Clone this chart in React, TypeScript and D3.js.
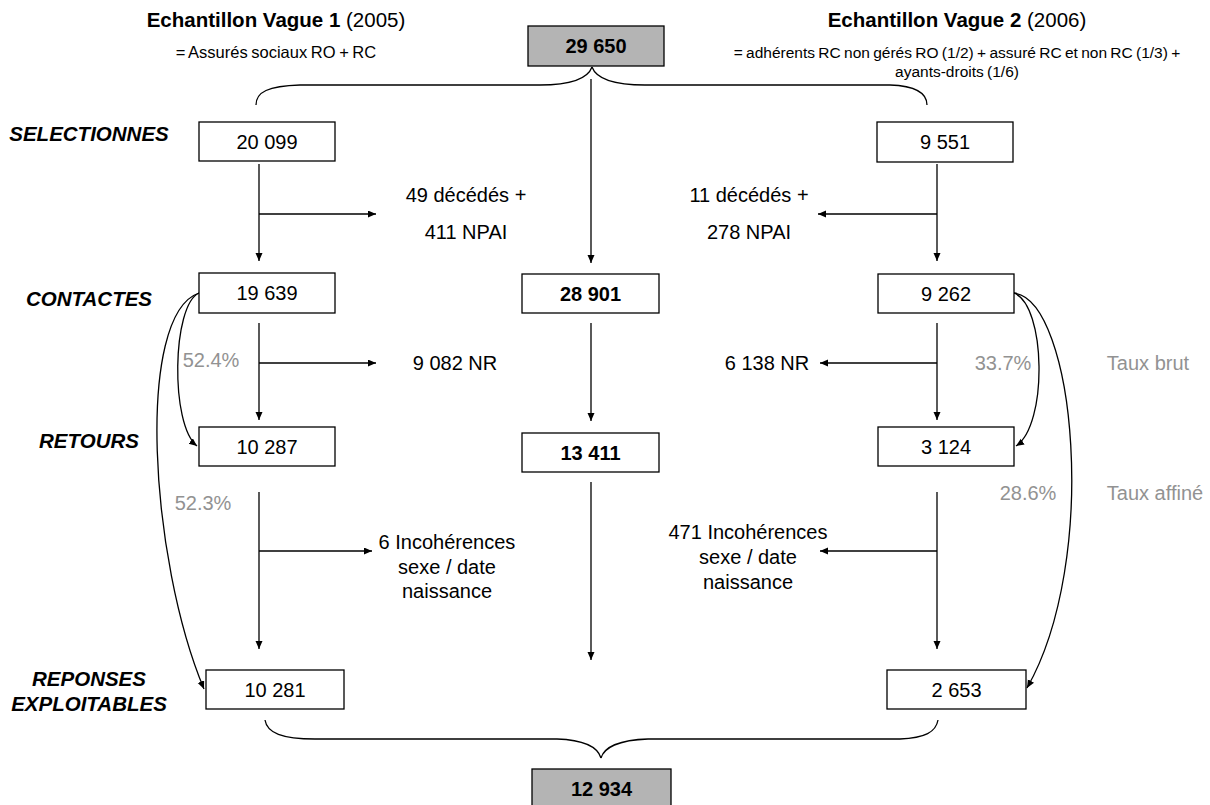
import React from "react";
import * as d3 from "d3";

// ---- data ----
const stages = ["SELECTIONNES", "CONTACTES", "RETOURS", "REPONSES|EXPLOITABLES"];
const wave1Values = [20099, 19639, 10287, 10281];
const wave2Values = [9551, 9262, 3124, 2653];
const totalValues = [29650, 28901, 13411, 12934];
const wave1Losses = ["49 décédés +|411 NPAI", "9 082 NR", "6 Incohérences|sexe / date|naissance"];
const wave2Losses = ["11 décédés +|278 NPAI", "6 138 NR", "471 Incohérences|sexe / date|naissance"];
const wave1Rates = ["52.4%", "52.3%"];
const wave2Rates = ["33.7%", "28.6%"];
const rateLabels = ["Taux brut", "Taux affiné"];
const waveTitles = ["Echantillon Vague 1", "Echantillon Vague 2"];
const waveYears = ["(2005)", "(2006)"];
const waveSubtitles = ["= Assurés sociaux RO + RC", "= adhérents RC non gérés RO (1/2) + assuré RC et non RC (1/3) +|ayants-droits (1/6)"];

// ---- layout ----
const FONT = "'Liberation Sans', Arial, Helvetica, sans-serif";
const fmt = d3.formatLocale({ decimal: ".", thousands: " ", grouping: [3], currency: ["", ""] }).format(",d");
const GRAY = "#929292";
const BOXFILL = "#b4b4b4";

const w1Boxes = [[199, 122, 136, 39], [199, 273, 136, 40], [199, 427, 136, 39], [206, 670, 138, 39]];
const w2Boxes = [[877, 122, 136, 40], [878, 274, 136, 39], [878, 427, 136, 39], [887, 670, 139, 39]];
const cBoxes = [[528, 26, 136, 40], [522, 274, 137, 39], [522, 433, 137, 39], [532, 769, 139, 40]];
const stageY = [[141], [306], [448], [686, 711]];

const vSegs = [[164, 261], [323, 420], [492, 649]];
const cSegs = [[79, 263], [323, 421], [482, 660]];
const branchY = [214, 363, 551];
const w1BranchEnd = [376, 376, 372];
const w2BranchEnd = [818, 820, 820];
const w1LossX = [466, 455, 447];
const w2LossX = [749, 767, 748];
const w1LossY = [[202, 239], [370], [549, 574, 598]];
const w2LossY = [[202, 239], [370], [539, 564, 589]];

function Box({ r, label, bold, fill }: any) {
  const [x, y, w, h] = r;
  return (
    <g>
      <rect x={x} y={y} width={w} height={h} fill={fill || "#fff"} stroke="#000" strokeWidth={1.3} />
      <text x={x + w / 2} y={y + h / 2 + 7} textAnchor="middle" fontSize={20} fontWeight={bold ? "bold" : "normal"} fill="#000">
        {label}
      </text>
    </g>
  );
}

export default function App() {
  const line = d3.line();
  const colX = [259, 591, 937];
  const stroke = { stroke: "#000", strokeWidth: 1.3, fill: "none" };

  const topBraceL = "M256,105 C256,92 268,86 300,85 L540,85 C572,85 588,78 592,67";
  const topBraceR = "M592,67 C596,78 612,85 645,85 L890,85 C918,86 927,94 927,105";
  const botBraceL = "M265,720 C267,733 282,739 315,739 L557,739 C585,740 598,748 601,758";
  const botBraceR = "M601,758 C604,748 618,740 648,739 L900,739 C925,738 936,732 938,720";

  const curves = [
    "M199,293 C172,305 170,425 197,446",
    "M199,293 C135,315 150,560 204,689",
    "M1014,293 C1046,305 1048,425 1016,446",
    "M1014,293 C1075,300 1100,560 1027,688",
  ];

  return (
    <svg width={1210} height={805} style={{ position: "absolute", left: 0, top: 0, background: "#fff" }} fontFamily={FONT}>
      <defs>
        <marker id="ah" markerUnits="userSpaceOnUse" markerWidth={9} markerHeight={8} refX={8} refY={3.5} orient="auto">
          <path d="M0,0 L8,3.5 L0,7 z" fill="#000" />
        </marker>
      </defs>

      {/* titles */}
      {[276, 957].map((cx, i) => (
        <g key={"t" + i}>
          <text x={cx} y={27} textAnchor="middle" fontSize={20.5} fill="#000">
            <tspan fontWeight="bold">{waveTitles[i]}</tspan>
            <tspan> {waveYears[i]}</tspan>
          </text>
          {waveSubtitles[i].split("|").map((s, j) => (
            <text key={j} x={cx} y={58 + j * 19} textAnchor="middle" fontSize={i === 0 ? 16.5 : 15.5} fill="#000" style={{ wordSpacing: "-1px" }}>
              {s}
            </text>
          ))}
        </g>
      ))}

      {/* braces */}
      <path d={topBraceL} {...stroke} />
      <path d={topBraceR} {...stroke} />
      <path d={botBraceL} {...stroke} />
      <path d={botBraceR} {...stroke} />

      {/* stage labels */}
      {stages.map((s, i) =>
        s.split("|").map((t, j) => (
          <text key={i + "-" + j} x={89} y={stageY[i][j]} textAnchor="middle" fontSize={20.5} fontWeight="bold" fontStyle="italic" fill="#000">
            {t}
          </text>
        ))
      )}

      {/* vertical arrows */}
      {vSegs.map((sg, i) => (
        <g key={"v" + i}>
          <path d={line([[colX[0], sg[0]], [colX[0], sg[1]]])!} {...stroke} markerEnd="url(#ah)" />
          <path d={line([[colX[2], sg[0]], [colX[2], sg[1]]])!} {...stroke} markerEnd="url(#ah)" />
          <path d={line([[colX[0], branchY[i]], [w1BranchEnd[i], branchY[i]]])!} {...stroke} markerEnd="url(#ah)" />
          <path d={line([[colX[2], branchY[i]], [w2BranchEnd[i], branchY[i]]])!} {...stroke} markerEnd="url(#ah)" />
        </g>
      ))}
      {cSegs.map((sg, i) => (
        <path key={"c" + i} d={line([[colX[1], sg[0]], [colX[1], sg[1]]])!} {...stroke} markerEnd="url(#ah)" />
      ))}

      {/* curved rate arrows */}
      {curves.map((d, i) => (
        <path key={"cv" + i} d={d} {...stroke} markerEnd="url(#ah)" />
      ))}

      {/* loss texts */}
      {wave1Losses.map((s, i) =>
        s.split("|").map((t, j) => (
          <text key={"l1" + i + j} x={w1LossX[i]} y={w1LossY[i][j]} textAnchor="middle" fontSize={20} fill="#000">{t}</text>
        ))
      )}
      {wave2Losses.map((s, i) =>
        s.split("|").map((t, j) => (
          <text key={"l2" + i + j} x={w2LossX[i]} y={w2LossY[i][j]} textAnchor="middle" fontSize={20} fill="#000">{t}</text>
        ))
      )}

      {/* rates */}
      <text x={211} y={367} textAnchor="middle" fontSize={20} fill={GRAY}>{wave1Rates[0]}</text>
      <text x={203} y={510} textAnchor="middle" fontSize={20} fill={GRAY}>{wave1Rates[1]}</text>
      <text x={1003} y={370} textAnchor="middle" fontSize={20} fill={GRAY}>{wave2Rates[0]}</text>
      <text x={1028} y={500} textAnchor="middle" fontSize={20} fill={GRAY}>{wave2Rates[1]}</text>
      <text x={1148} y={370} textAnchor="middle" fontSize={20} fill={GRAY}>{rateLabels[0]}</text>
      <text x={1155} y={500} textAnchor="middle" fontSize={20} fill={GRAY}>{rateLabels[1]}</text>

      {/* boxes */}
      {wave1Values.map((v, i) => <Box key={"b1" + i} r={w1Boxes[i]} label={fmt(v)} />)}
      {wave2Values.map((v, i) => <Box key={"b2" + i} r={w2Boxes[i]} label={fmt(v)} />)}
      {totalValues.map((v, i) => (
        <Box key={"bc" + i} r={cBoxes[i]} label={fmt(v)} bold fill={i === 0 || i === 3 ? BOXFILL : "#fff"} />
      ))}
    </svg>
  );
}
